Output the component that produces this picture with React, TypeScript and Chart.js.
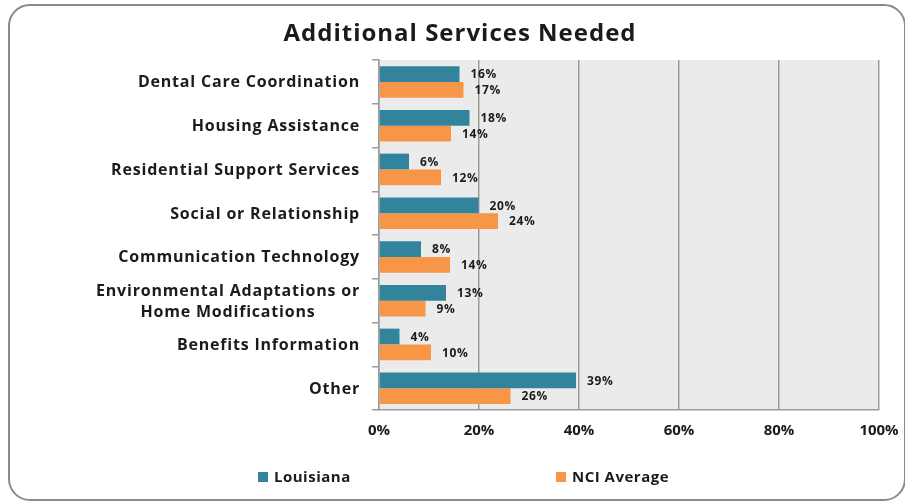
import React, { useEffect, useRef } from "react";
import { Chart, registerables } from "chart.js";

Chart.register(...registerables);

const chartTitle = "Additional Services Needed";
const categories: string[][] = [
  ["Dental Care Coordination"],
  ["Housing Assistance"],
  ["Residential Support Services"],
  ["Social or Relationship"],
  ["Communication Technology"],
  ["Environmental Adaptations or", "Home Modifications"],
  ["Benefits Information"],
  ["Other"],
];
const seriesNames = ["Louisiana", "NCI Average"];
const louisiana = [16.1, 18.1, 6.0, 19.9, 8.4, 13.4, 4.1, 39.4];
const nciAverage = [16.9, 14.4, 12.4, 23.8, 14.2, 9.3, 10.4, 26.3];
const xTickValues = [0, 20, 40, 60, 80, 100];
const seriesColors = ["#31849B", "#F79646"];

const FONT = "'Open Sans', Lato, sans-serif";
const TEXT = "#1b1b1b";
const GRID = "#9c9c9c";

const customPlugin = {
  id: "custom",
  beforeDraw(chart: any) {
    const { ctx, chartArea } = chart;
    ctx.save();
    ctx.fillStyle = "#EBEBEB";
    ctx.fillRect(chartArea.left, chartArea.top, chartArea.right - chartArea.left, chartArea.bottom - chartArea.top);
    ctx.restore();
  },
  afterDraw(chart: any) {
    const { ctx, chartArea } = chart;
    ctx.save();
    // title
    ctx.fillStyle = TEXT;
    ctx.font = `bold 24px ${FONT}`;
    (ctx as any).letterSpacing = "1px";
    ctx.textAlign = "center";
    ctx.textBaseline = "middle";
    ctx.fillText(chartTitle, 460, 34);

    // y category labels (multi-line centered block, right aligned)
    const yScale = chart.scales.y;
    ctx.font = `bold 16px ${FONT}`;
    (ctx as any).letterSpacing = "0.8px";
    const lineH = 21;
    const rightEdge = chartArea.left - 19;
    categories.forEach((lines, i) => {
      const cy = yScale.getPixelForValue(i) + 1;
      const maxW = Math.max(...lines.map((l) => ctx.measureText(l).width));
      const cx = rightEdge - maxW / 2;
      ctx.textAlign = "center";
      lines.forEach((l, j) => {
        const y = cy + (j - (lines.length - 1) / 2) * lineH;
        ctx.fillText(l, cx, y);
      });
    });

    // data labels
    ctx.font = `bold 12px ${FONT}`;
    (ctx as any).letterSpacing = "0.6px";
    ctx.textAlign = "left";
    chart.data.datasets.forEach((ds: any, di: number) => {
      const meta = chart.getDatasetMeta(di);
      meta.data.forEach((el: any, i: number) => {
        const v = ds.data[i];
        ctx.fillText(Math.round(v) + "%", el.x + 11, el.y + 1);
      });
    });

    // legend
    ctx.font = `bold 15px ${FONT}`;
    (ctx as any).letterSpacing = "0.5px";
    const legendX = [258, 556];
    const legendY = 477;
    seriesNames.forEach((name, i) => {
      ctx.fillStyle = seriesColors[i];
      ctx.fillRect(legendX[i], legendY - 5, 10, 10);
      ctx.fillStyle = TEXT;
      ctx.textAlign = "left";
      ctx.fillText(name, legendX[i] + 16, legendY + 1);
    });
    ctx.restore();
  },
};

export default function App() {
  const ref = useRef<HTMLCanvasElement | null>(null);
  useEffect(() => {
    document.body.style.margin = "0";
    const canvas = ref.current!;
    const chart = new Chart(canvas, {
      type: "bar",
      data: {
        labels: categories.map((c) => c.join(" ")),
        datasets: [
          {
            label: seriesNames[0],
            data: louisiana,
            backgroundColor: seriesColors[0],
            categoryPercentage: 0.72,
            barPercentage: 1.0,
          },
          {
            label: seriesNames[1],
            data: nciAverage,
            backgroundColor: seriesColors[1],
            categoryPercentage: 0.72,
            barPercentage: 1.0,
          },
        ],
      },
      options: {
        indexAxis: "y",
        responsive: false,
        animation: false,
        events: [],
        layout: { padding: { left: 9, right: 26, top: 60, bottom: 0 } },
        plugins: {
          legend: { display: false },
          title: { display: false },
          tooltip: { enabled: false },
        },
        scales: {
          x: {
            min: 0,
            max: 100,
            afterBuildTicks: (s: any) => {
              s.ticks = xTickValues.map((v) => ({ value: v }));
            },
            ticks: {
              callback: (v: any) => v + "%",
              font: { family: FONT, size: 15, weight: "bold" },
              color: TEXT,
              padding: 12,
            },
            grid: { color: GRID, lineWidth: 1.5, drawTicks: false },
            border: { color: GRID, width: 1.5 },
            afterFit: (s: any) => {
              s.height = 92;
              s.paddingLeft = 0;
              s.paddingRight = 0;
            },
          },
          y: {
            ticks: { display: false },
            grid: { drawOnChartArea: false, drawTicks: true, tickLength: 7, color: GRID, lineWidth: 1.5, offset: true },
            border: { color: GRID, width: 1.5 },
            afterFit: (s: any) => {
              s.width = 370;
              s.paddingTop = 0;
              s.paddingBottom = 0;
            },
          },
        },
      } as any,
      plugins: [customPlugin],
    });
    return () => chart.destroy();
  }, []);

  return (
    <div style={{ position: "relative", width: 905, height: 502, overflow: "hidden", background: "#fff" }}>
      <canvas ref={ref} width={905} height={502} style={{ position: "absolute", left: 0, top: 0 }} />
      <div
        style={{
          position: "absolute",
          left: 8,
          top: 4,
          width: 898,
          height: 497,
          boxSizing: "border-box",
          border: "2px solid #8a8a8a",
          borderRadius: 22,
          pointerEvents: "none",
        }}
      />
    </div>
  );
}
